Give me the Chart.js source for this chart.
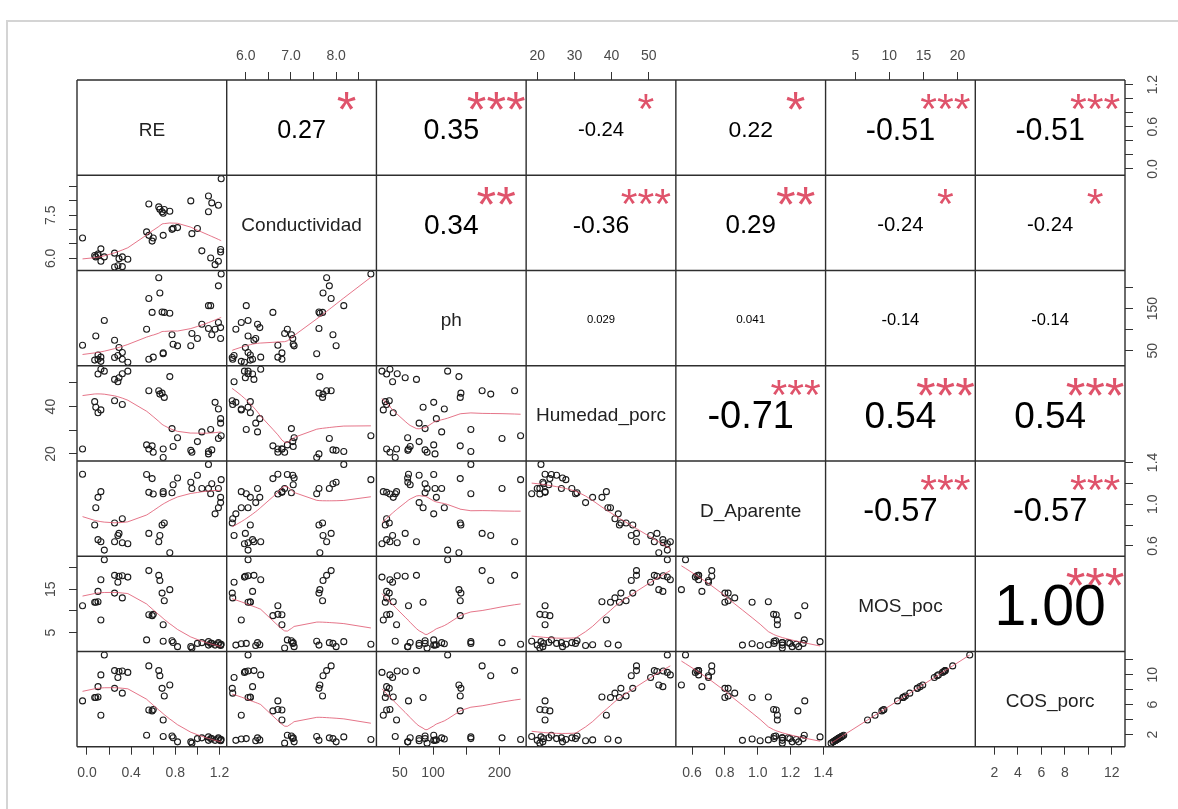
<!DOCTYPE html>
<html>
<head>
<meta charset="utf-8">
<script src="https://cdn.jsdelivr.net/npm/chart.js@4.4.1/dist/chart.umd.min.js"></script>
<style>
  html, body { margin: 0; padding: 0; background: #ffffff; }
  #wrap { position: relative; width: 1178px; height: 809px; }
  canvas { display: block; }
</style>
</head>
<body>
<div id="wrap"><canvas id="c" width="1178" height="809"></canvas></div>
<script>
const FAMILY = '"Liberation Sans", Arial, Helvetica, sans-serif';
Chart.defaults.font.family = FAMILY;

// ---- observations (one entry per soil sample) ----
const RE = [-0.04, 0.157, 0.126, 0.10, 0.07, 0.08, 0.10, 0.126, 0.25, 0.29, 0.32, 0.37, 0.28, 0.25, 0.32,
  0.56, 0.54, 0.56, 0.59, 0.60, 0.65, 0.66, 0.68, 0.70, 0.69, 0.69, 0.75, 0.77, 0.78, 0.82,
  0.94, 0.95, 1.00, 1.215, 1.10, 1.13, 1.19, 1.10, 1.04, 1.12, 1.19, 1.16, 1.21, 1.21];
const Conductividad = [6.71, 6.05, 6.33, 6.15, 6.10, 6.05, 6.10, 5.90, 6.18, 5.99, 6.05, 5.97, 5.74, 5.70, 5.71,
  7.89, 6.92, 6.80, 6.60, 6.71, 7.79, 7.71, 7.62, 7.70, 6.80, 7.57, 7.64, 7.01, 7.05, 7.07,
  8.00, 6.86, 7.04, 8.77, 8.17, 7.93, 7.85, 7.62, 6.26, 6.01, 5.90, 5.78, 6.31, 6.22];
const ph = [63, 122, 35, 30, 28, 85, 40, 25, 75, 58, 46, 23, 39, 34, 30,
  174, 101, 30, 141, 35, 223, 187, 142, 141, 45, 43, 139, 88, 65.5, 61.7,
  62, 91, 79, 232, 157, 88, 204, 103, 113, 157, 117, 101, 105, 79];
const Humedad_porc = [22.1, 55.0, 55.8, 53.8, 42.1, 39.7, 37.4, 38.6, 51.5, 52.2, 53.9, 55.0, 50.5, 42.5, 40.9,
  46.7, 23.8, 22.1, 23.4, 20.7, 46.7, 45.3, 45.7, 43.9, 22.1, 18.5, 52.7, 30.7, 23.1, 26.8,
  21.5, 20.7, 25.2, 27.7, 21.0, 21.7, 26.5, 20.0, 29.3, 30.3, 39.0, 41.8, 34.9, 33.0];
const D_Aparente = [1.287, 0.56, 0.64, 0.66, 0.80, 0.966, 1.065, 1.12, 0.64, 0.72, 0.63, 0.62, 0.70, 0.82, 0.86,
  0.72, 1.284, 1.113, 1.245, 1.097, 0.64, 0.70, 0.80, 0.82, 1.12, 1.10, 0.535, 1.11, 1.186, 1.25,
  1.21, 1.15, 1.277, 1.235, 1.38, 1.196, 1.15, 1.15, 1.15, 1.10, 0.966, 0.907, 1.065, 1.015];
const MOS_poc = [11.2, 21.8, 17.2, 14.5, 12.0, 12.0, 12.1, 7.9, 18.2, 18.0, 18.1, 17.8, 16.6, 14.1, 13.0,
  19.3, 3.3, 9.1, 8.9, 9.2, 18.2, 17.0, 14.1, 12.35, 6.8, 3.0, 14.9, 3.1, 2.7, 1.75,
  1.75, 1.45, 2.5, 2.3, 2.9, 2.5, 2.67, 2.1, 2.67, 2.5, 2.4, 2.1, 2.2, 2.0];
const COS_porc = [6.50, 12.65, 9.98, 8.41, 6.96, 6.96, 7.02, 4.58, 10.56, 10.44, 10.50, 10.32, 9.63, 8.18, 7.54,
  11.19, 1.91, 5.28, 5.16, 5.34, 10.56, 9.86, 8.18, 7.16, 3.94, 1.74, 8.64, 1.80, 1.57, 1.02,
  1.02, 0.84, 1.45, 1.33, 1.68, 1.45, 1.55, 1.22, 1.55, 1.45, 1.39, 1.22, 1.28, 1.16];

const varNames = ['RE', 'Conductividad', 'ph', 'Humedad_porc', 'D_Aparente', 'MOS_poc', 'COS_porc'];
const variables = [RE, Conductividad, ph, Humedad_porc, D_Aparente, MOS_poc, COS_porc];

// ---- axis ticks and the labels written beside them ----
const RE_ticks = [0, 0.2, 0.4, 0.6, 0.8, 1.0, 1.2];
const Cond_ticks = [6.0, 6.5, 7.0, 7.5, 8.0, 8.5];
const ph_ticks = [50, 100, 150, 200];
const Hum_ticks = [20, 30, 40, 50];
const DA_ticks = [0.6, 0.8, 1.0, 1.2, 1.4];
const MOS_ticks = [5, 10, 15, 20];
const COS_ticks = [2, 4, 6, 8, 10, 12];

const RE_xLabels = [0, 0.4, 0.8, 1.2];
const Cond_xLabels = [6.0, 7.0, 8.0];
const ph_xLabels = [50, 100, 200];
const Hum_xLabels = [20, 30, 40, 50];
const DA_xLabels = [0.6, 0.8, 1.0, 1.2, 1.4];
const MOS_xLabels = [5, 10, 15, 20];
const COS_xLabels = [2, 4, 6, 8, 12];

const RE_yLabels = [0, 0.6, 1.2];
const Cond_yLabels = [6.0, 7.5];
const ph_yLabels = [50, 150];
const Hum_yLabels = [20, 40];
const DA_yLabels = [0.6, 1.0, 1.4];
const MOS_yLabels = [5, 15];
const COS_yLabels = [2, 6, 10];

const tickSets = [RE_ticks, Cond_ticks, ph_ticks, Hum_ticks, DA_ticks, MOS_ticks, COS_ticks];
const xLabelSets = [RE_xLabels, Cond_xLabels, ph_xLabels, Hum_xLabels, DA_xLabels, MOS_xLabels, COS_xLabels];
const yLabelSets = [RE_yLabels, Cond_yLabels, ph_yLabels, Hum_yLabels, DA_yLabels, MOS_yLabels, COS_yLabels];
const tickDecimals = [1, 1, 0, 0, 1, 0, 0];

// ---- Pearson coefficients and significance marks (upper triangle, row by row) ----
const corrRow1 = ['0.27', '0.35', '-0.24', '0.22', '-0.51', '-0.51'];
const corrRow2 = ['0.34', '-0.36', '0.29', '-0.24', '-0.24'];
const corrRow3 = ['0.029', '0.041', '-0.14', '-0.14'];
const corrRow4 = ['-0.71', '0.54', '0.54'];
const corrRow5 = ['-0.57', '-0.57'];
const corrRow6 = ['1.00'];
const starsRow1 = ['*', '***', '*', '*', '***', '***'];
const starsRow2 = ['**', '***', '**', '*', '*'];
const starsRow3 = ['', '', '', ''];
const starsRow4 = ['***', '***', '***'];
const starsRow5 = ['***', '***'];
const starsRow6 = ['***'];
const corrRows = [corrRow1, corrRow2, corrRow3, corrRow4, corrRow5, corrRow6];
const starRows = [starsRow1, starsRow2, starsRow3, starsRow4, starsRow5, starsRow6];

// ---- helpers ----
function extendRange(v) {
  const lo = Math.min(...v), hi = Math.max(...v), d = (hi - lo) * 0.04;
  return [lo - d, hi + d];
}
const ranges = variables.map(extendRange);

// locally weighted scatterplot smoothing (Cleveland), f = 2/3, 3 robustness steps
function lowess(xv, yv, f = 2 / 3, iter = 3) {
  const n = xv.length;
  const idx = xv.map((_, i) => i).sort((a, b) => (xv[a] - xv[b]) || (a - b));
  const x = idx.map(i => xv[i]);
  const y = idx.map(i => yv[i]);
  const ns = Math.max(2, Math.min(n, Math.floor(f * n + 1e-7)));
  const fit = new Array(n).fill(0);
  const w = new Array(n).fill(0);
  let rob = new Array(n).fill(1);
  const span = x[n - 1] - x[0];
  for (let it = 0; it <= iter; it++) {
    let nleft = 0, nright = ns - 1;
    for (let i = 0; i < n; i++) {
      while (nright < n - 1 && (x[i] - x[nleft]) > (x[nright + 1] - x[i])) { nleft++; nright++; }
      const h = Math.max(x[i] - x[nleft], x[nright] - x[i]);
      const h9 = 0.999 * h, h1 = 0.001 * h;
      let a = 0, j = nleft;
      for (; j < n; j++) {
        w[j] = 0;
        const r = Math.abs(x[j] - x[i]);
        if (r <= h9) {
          w[j] = (r <= h1 ? 1 : Math.pow(1 - Math.pow(r / h, 3), 3)) * rob[j];
          a += w[j];
        } else if (x[j] > x[i]) break;
      }
      const nrt = j - 1;
      if (a <= 0) { fit[i] = y[i]; continue; }
      for (let m = nleft; m <= nrt; m++) w[m] /= a;
      if (h > 0) {
        let xm = 0;
        for (let m = nleft; m <= nrt; m++) xm += w[m] * x[m];
        let b = x[i] - xm, c = 0;
        for (let m = nleft; m <= nrt; m++) c += w[m] * (x[m] - xm) * (x[m] - xm);
        if (Math.sqrt(c) > 0.001 * span) {
          b /= c;
          for (let m = nleft; m <= nrt; m++) w[m] *= (b * (x[m] - xm) + 1);
        }
      }
      let s = 0;
      for (let m = nleft; m <= nrt; m++) s += w[m] * y[m];
      fit[i] = s;
    }
    if (it === iter) break;
    const res = y.map((v, i) => v - fit[i]);
    const sorted = res.map(Math.abs).sort((p, q) => p - q);
    const m1 = Math.floor(n / 2);
    const cmad = n % 2 === 0 ? 3 * (sorted[m1 - 1] + sorted[m1]) : 6 * sorted[m1];
    const sc = y.reduce((t, v) => t + Math.abs(v), 0) / n;
    if (cmad < 1e-7 * sc) break;
    const c9 = 0.999 * cmad, c1 = 0.001 * cmad;
    rob = res.map(r => {
      const u = Math.abs(r);
      return u <= c1 ? 1 : (u > c9 ? 0 : Math.pow(1 - Math.pow(u / cmad, 2), 2));
    });
  }
  return x.map((v, i) => ({ x: v, y: fit[i] }));
}

const mctx = document.createElement('canvas').getContext('2d');
mctx.font = '14px ' + FAMILY;
const TICK_FONT = { size: 14, family: FAMILY };
const TICK_COLOR = '#4a4a4a';
const TICK_LEN = 8;

function isShown(list, v) { return list.some(s => Math.abs(s - v) < 1e-9); }

function xAxis(k, position, show, weight) {
  const [lo, hi] = ranges[k];
  const shown = xLabelSets[k];
  return {
    type: 'linear', axis: 'x', position, stack: 'cols', stackWeight: 1, weight,
    min: lo, max: hi, bounds: 'data', offset: false,
    border: { display: false },
    grid: { display: show, drawOnChartArea: false, drawTicks: true, tickLength: TICK_LEN, tickColor: '#333', tickWidth: 1 },
    ticks: {
      display: show, autoSkip: false, maxRotation: 0, minRotation: 0,
      color: TICK_COLOR, font: TICK_FONT, padding: position === 'top' ? 7.6 : 10.2,
      callback: v => isShown(shown, v) ? Number(v).toFixed(tickDecimals[k]) : ''
    },
    afterBuildTicks: s => { s.ticks = tickSets[k].map(value => ({ value })); },
    afterFit: s => { s.height = 40; }
  };
}

function yAxis(k, position, show, weight) {
  const [lo, hi] = ranges[k];
  const shown = yLabelSets[k];
  const widest = Math.max(...shown.map(v => mctx.measureText(v.toFixed(tickDecimals[k])).width));
  const centre = position === 'right' ? 28 : 25.6;
  return {
    type: 'linear', axis: 'y', position, stack: 'rows', stackWeight: 1, weight,
    min: lo, max: hi, bounds: 'data', offset: false,
    border: { display: false },
    grid: { display: show, drawOnChartArea: false, drawTicks: true, tickLength: TICK_LEN, tickColor: '#333', tickWidth: 1 },
    ticks: {
      display: show, autoSkip: false, minRotation: 90, maxRotation: 90, crossAlign: 'center',
      color: TICK_COLOR, font: TICK_FONT, padding: centre - TICK_LEN - widest / 2,
      callback: v => isShown(shown, v) ? Number(v).toFixed(tickDecimals[k]) : ''
    },
    afterBuildTicks: s => { s.ticks = tickSets[k].map(value => ({ value })); },
    afterFit: s => { s.width = 40; }
  };
}

// one column of panels per variable along x, one row per variable along y
const scales = {};
for (let k = 0; k < 7; k++) {
  const n = k + 1;
  const odd = n % 2 === 1;
  scales['xb' + n] = xAxis(k, 'bottom', odd, n);
  scales['xt' + n] = xAxis(k, 'top', !odd, 10 - n);
  scales['yr' + n] = yAxis(k, 'right', odd, n);
  scales['yl' + n] = yAxis(k, 'left', !odd, 10 - n);
}

// lower triangle: scatter of each pair plus its lowess smooth
const datasets = [];
for (let i = 1; i < 7; i++) {
  for (let j = 0; j < i; j++) {
    const xv = variables[j], yv = variables[i];
    const xAxisID = 'xb' + (j + 1), yAxisID = 'yr' + (i + 1);
    datasets.push({
      label: varNames[i] + ' ~ ' + varNames[j],
      data: xv.map((x, t) => ({ x, y: yv[t] })),
      xAxisID, yAxisID, showLine: false,
      pointStyle: 'circle', pointRadius: 3, borderWidth: 1.1,
      borderColor: '#1c1c1c', backgroundColor: 'rgba(0,0,0,0)', order: 2
    });
    datasets.push({
      label: 'lowess ' + varNames[i] + ' ~ ' + varNames[j],
      data: lowess(xv, yv),
      xAxisID, yAxisID, showLine: true, pointRadius: 0, tension: 0,
      borderColor: 'rgba(223,83,107,0.8)', borderWidth: 1, backgroundColor: 'rgba(0,0,0,0)', order: 1
    });
  }
}

const background = {
  id: 'background',
  beforeDraw(chart) {
    const ctx = chart.ctx;
    ctx.save();
    ctx.fillStyle = '#ffffff';
    ctx.fillRect(0, 0, chart.width, chart.height);
    // light page edge along the left and top
    ctx.strokeStyle = '#d4d4d4';
    ctx.lineWidth = 2;
    ctx.beginPath();
    ctx.moveTo(7, chart.height);
    ctx.lineTo(7, 21);
    ctx.lineTo(chart.width, 21);
    ctx.stroke();
    ctx.restore();
  }
};

// panel frames, variable names on the diagonal, coefficients above it
const panels = {
  id: 'panels',
  afterDatasetsDraw(chart) {
    const ctx = chart.ctx;
    const xs = [], ys = [];
    for (let k = 1; k <= 7; k++) { xs.push(chart.scales['xb' + k]); ys.push(chart.scales['yr' + k]); }
    const top = ys[0].top, bottom = ys[6].bottom, left = xs[0].left, right = xs[6].right;
    ctx.save();
    ctx.strokeStyle = '#2e2e2e';
    ctx.lineWidth = 1.4;
    ctx.beginPath();
    xs.forEach(s => { ctx.moveTo(s.left, top); ctx.lineTo(s.left, bottom); });
    ctx.moveTo(right, top); ctx.lineTo(right, bottom);
    ys.forEach(s => { ctx.moveTo(left, s.top); ctx.lineTo(right, s.top); });
    ctx.moveTo(left, bottom); ctx.lineTo(right, bottom);
    ctx.stroke();

    ctx.textAlign = 'center';
    ctx.textBaseline = 'alphabetic';
    for (let k = 0; k < 7; k++) {
      const cx = (xs[k].left + xs[k].right) / 2, cy = (ys[k].top + ys[k].bottom) / 2;
      const fs = 19;
      ctx.font = fs + 'px ' + FAMILY;
      ctx.fillStyle = '#222222';
      ctx.fillText(varNames[k], cx, cy + 1.3 + 0.358 * fs);
    }

    for (let i = 0; i < 6; i++) {
      for (let j = i + 1; j < 7; j++) {
        const txt = corrRows[i][j - i - 1];
        const stars = starRows[i][j - i - 1];
        const l = xs[j].left, r = xs[j].right, t = ys[i].top, b = ys[i].bottom;
        const w = r - l, h = b - t;
        const cx = (l + r) / 2, cy = (t + b) / 2;
        ctx.font = '100px ' + FAMILY;
        const w100 = ctx.measureText(txt).width;
        const base = 0.8 * w * 100 / w100 * 0.93;
        const rv = Math.abs(parseFloat(txt));
        const fs = base * (rv + 0.3) / 1.3;
        ctx.font = fs + 'px ' + FAMILY;
        ctx.fillStyle = '#000000';
        ctx.fillText(txt, cx, cy + 1 + 0.358 * fs);
        if (stars) {
          const sf = base * 0.88;
          ctx.font = sf + 'px ' + FAMILY;
          ctx.fillStyle = '#DF536B';
          ctx.fillText(stars, l + 0.8 * w, b - 0.8 * h - 1 + 0.575 * sf);
        }
      }
    }
    ctx.restore();
  }
};

new Chart(document.getElementById('c'), {
  type: 'scatter',
  data: { datasets },
  options: {
    responsive: false,
    animation: false,
    devicePixelRatio: 1,
    events: [],
    layout: { padding: { left: 37, right: 13, top: 40, bottom: 22.3 } },
    plugins: {
      legend: { display: false },
      title: { display: false },
      tooltip: { enabled: false }
    },
    scales
  },
  plugins: [background, panels]
});
</script>
</body>
</html>
